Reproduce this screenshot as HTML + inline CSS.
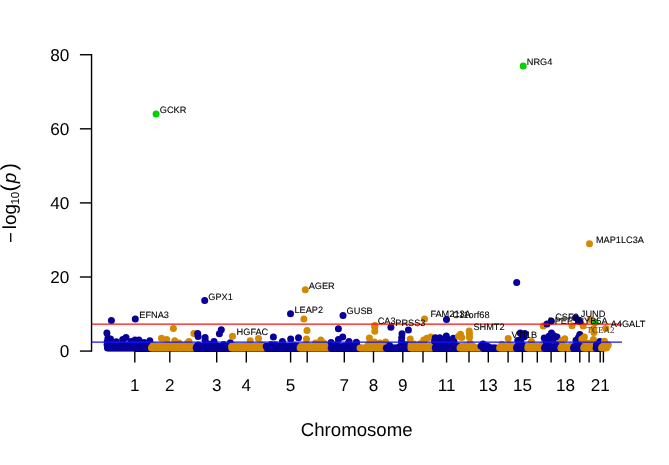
<!DOCTYPE html>
<html><head><meta charset="utf-8"><title>Manhattan plot</title>
<style>html,body{margin:0;padding:0;background:#fff}svg{display:block}text{font-family:"Liberation Sans",Arial,sans-serif;fill:#000;text-rendering:geometricPrecision}.g{font-size:9.2px;fill:#000;stroke:#000;stroke-width:.1px}.a{font-size:17.1px}.y{font-size:17.2px}.t{font-size:18.9px}.s{font-family:"Liberation Serif",serif;font-size:9px;fill:#34201c;fill-opacity:.88}</style></head><body>
<svg width="669" height="465" viewBox="0 0 669 465">
<rect width="669" height="465" fill="#fff"/>
<path d="M134.8 351.3H603.4" stroke="#000" stroke-width="1.2" fill="none"/>
<g><circle cx="107.5" cy="348.0" r="3.5" fill="#08009A"/><circle cx="108.3" cy="347.0" r="3.5" fill="#08009A"/><circle cx="109.1" cy="348.0" r="3.5" fill="#08009A"/><circle cx="109.9" cy="346.6" r="3.5" fill="#08009A"/><circle cx="110.7" cy="348.0" r="3.5" fill="#08009A"/><circle cx="111.5" cy="346.5" r="3.5" fill="#08009A"/><circle cx="112.3" cy="348.0" r="3.5" fill="#08009A"/><circle cx="113.1" cy="347.0" r="3.5" fill="#08009A"/><circle cx="113.9" cy="348.0" r="3.5" fill="#08009A"/><circle cx="114.7" cy="346.6" r="3.5" fill="#08009A"/><circle cx="115.5" cy="348.0" r="3.5" fill="#08009A"/><circle cx="116.3" cy="346.5" r="3.5" fill="#08009A"/><circle cx="117.1" cy="348.0" r="3.5" fill="#08009A"/><circle cx="117.9" cy="347.0" r="3.5" fill="#08009A"/><circle cx="118.7" cy="348.0" r="3.5" fill="#08009A"/><circle cx="119.5" cy="346.6" r="3.5" fill="#08009A"/><circle cx="120.3" cy="348.0" r="3.5" fill="#08009A"/><circle cx="121.1" cy="346.5" r="3.5" fill="#08009A"/><circle cx="121.9" cy="348.0" r="3.5" fill="#08009A"/><circle cx="122.7" cy="347.0" r="3.5" fill="#08009A"/><circle cx="123.5" cy="348.0" r="3.5" fill="#08009A"/><circle cx="124.3" cy="346.6" r="3.5" fill="#08009A"/><circle cx="125.1" cy="348.0" r="3.5" fill="#08009A"/><circle cx="125.9" cy="346.5" r="3.5" fill="#08009A"/><circle cx="126.7" cy="348.0" r="3.5" fill="#08009A"/><circle cx="127.5" cy="347.0" r="3.5" fill="#08009A"/><circle cx="128.3" cy="348.0" r="3.5" fill="#08009A"/><circle cx="129.1" cy="346.6" r="3.5" fill="#08009A"/><circle cx="129.9" cy="348.0" r="3.5" fill="#08009A"/><circle cx="130.7" cy="346.5" r="3.5" fill="#08009A"/><circle cx="131.5" cy="348.0" r="3.5" fill="#08009A"/><circle cx="132.3" cy="347.0" r="3.5" fill="#08009A"/><circle cx="133.1" cy="348.0" r="3.5" fill="#08009A"/><circle cx="133.9" cy="346.6" r="3.5" fill="#08009A"/><circle cx="134.7" cy="348.0" r="3.5" fill="#08009A"/><circle cx="135.5" cy="346.5" r="3.5" fill="#08009A"/><circle cx="136.3" cy="348.0" r="3.5" fill="#08009A"/><circle cx="137.1" cy="347.0" r="3.5" fill="#08009A"/><circle cx="137.9" cy="348.0" r="3.5" fill="#08009A"/><circle cx="138.7" cy="346.6" r="3.5" fill="#08009A"/><circle cx="139.5" cy="348.0" r="3.5" fill="#08009A"/><circle cx="140.3" cy="346.5" r="3.5" fill="#08009A"/><circle cx="141.1" cy="348.0" r="3.5" fill="#08009A"/><circle cx="141.9" cy="347.0" r="3.5" fill="#08009A"/><circle cx="142.7" cy="348.0" r="3.5" fill="#08009A"/><circle cx="143.5" cy="346.7" r="3.5" fill="#08009A"/><circle cx="144.3" cy="348.0" r="3.5" fill="#08009A"/><circle cx="145.1" cy="346.5" r="3.5" fill="#08009A"/><circle cx="145.9" cy="348.0" r="3.5" fill="#08009A"/><circle cx="146.7" cy="347.0" r="3.5" fill="#08009A"/><circle cx="147.5" cy="348.0" r="3.5" fill="#08009A"/><circle cx="148.3" cy="346.7" r="3.5" fill="#08009A"/><circle cx="149.1" cy="348.0" r="3.5" fill="#08009A"/><circle cx="149.9" cy="346.5" r="3.5" fill="#08009A"/><circle cx="121.1" cy="346.8" r="3.5" fill="#08009A"/><circle cx="134.8" cy="346.9" r="3.5" fill="#08009A"/><circle cx="130.0" cy="346.4" r="3.5" fill="#08009A"/><circle cx="109.9" cy="346.1" r="3.5" fill="#08009A"/><circle cx="109.1" cy="346.3" r="3.5" fill="#08009A"/><circle cx="110.4" cy="346.9" r="3.5" fill="#08009A"/><circle cx="125.3" cy="344.7" r="3.5" fill="#08009A"/><circle cx="112.7" cy="346.7" r="3.5" fill="#08009A"/><circle cx="133.8" cy="343.2" r="3.5" fill="#08009A"/><circle cx="131.7" cy="346.3" r="3.5" fill="#08009A"/><circle cx="148.4" cy="346.9" r="3.5" fill="#08009A"/><circle cx="143.5" cy="346.6" r="3.5" fill="#08009A"/><circle cx="113.5" cy="346.8" r="3.5" fill="#08009A"/><circle cx="120.4" cy="344.8" r="3.5" fill="#08009A"/><circle cx="115.1" cy="345.9" r="3.5" fill="#08009A"/><circle cx="134.3" cy="346.4" r="3.5" fill="#08009A"/><circle cx="130.5" cy="346.9" r="3.5" fill="#08009A"/><circle cx="110.0" cy="346.7" r="3.5" fill="#08009A"/><circle cx="107.2" cy="341.8" r="3.5" fill="#08009A"/><circle cx="107.1" cy="344.8" r="3.5" fill="#08009A"/><circle cx="109.5" cy="342.3" r="3.5" fill="#08009A"/><circle cx="111.4" cy="320.6" r="3.5" fill="#08009A"/><circle cx="135.3" cy="319.1" r="3.5" fill="#08009A"/><circle cx="106.9" cy="333.1" r="3.5" fill="#08009A"/><circle cx="107.9" cy="338.2" r="3.5" fill="#08009A"/><circle cx="110.5" cy="338.9" r="3.5" fill="#08009A"/><circle cx="126.0" cy="337.6" r="3.5" fill="#08009A"/><circle cx="122.7" cy="339.5" r="3.5" fill="#08009A"/><circle cx="135.0" cy="339.9" r="3.5" fill="#08009A"/><circle cx="138.9" cy="339.9" r="3.5" fill="#08009A"/><circle cx="149.8" cy="340.8" r="3.5" fill="#08009A"/><circle cx="116.3" cy="341.7" r="3.5" fill="#08009A"/><circle cx="144.0" cy="342.5" r="3.5" fill="#08009A"/><circle cx="131.0" cy="341.5" r="3.5" fill="#08009A"/></g>
<g><circle cx="151.4" cy="348.0" r="3.5" fill="#D38900"/><circle cx="152.2" cy="347.0" r="3.5" fill="#D38900"/><circle cx="153.0" cy="348.0" r="3.5" fill="#D38900"/><circle cx="153.8" cy="346.5" r="3.5" fill="#D38900"/><circle cx="154.6" cy="348.0" r="3.5" fill="#D38900"/><circle cx="155.4" cy="346.7" r="3.5" fill="#D38900"/><circle cx="156.2" cy="348.0" r="3.5" fill="#D38900"/><circle cx="157.0" cy="347.0" r="3.5" fill="#D38900"/><circle cx="157.8" cy="348.0" r="3.5" fill="#D38900"/><circle cx="158.6" cy="346.5" r="3.5" fill="#D38900"/><circle cx="159.4" cy="348.0" r="3.5" fill="#D38900"/><circle cx="160.2" cy="346.7" r="3.5" fill="#D38900"/><circle cx="161.0" cy="348.0" r="3.5" fill="#D38900"/><circle cx="161.8" cy="347.0" r="3.5" fill="#D38900"/><circle cx="162.6" cy="348.0" r="3.5" fill="#D38900"/><circle cx="163.4" cy="346.5" r="3.5" fill="#D38900"/><circle cx="164.2" cy="348.0" r="3.5" fill="#D38900"/><circle cx="165.0" cy="346.6" r="3.5" fill="#D38900"/><circle cx="165.8" cy="348.0" r="3.5" fill="#D38900"/><circle cx="166.6" cy="347.0" r="3.5" fill="#D38900"/><circle cx="167.4" cy="348.0" r="3.5" fill="#D38900"/><circle cx="168.2" cy="346.5" r="3.5" fill="#D38900"/><circle cx="169.0" cy="348.0" r="3.5" fill="#D38900"/><circle cx="169.8" cy="346.6" r="3.5" fill="#D38900"/><circle cx="170.6" cy="348.0" r="3.5" fill="#D38900"/><circle cx="171.4" cy="347.0" r="3.5" fill="#D38900"/><circle cx="172.2" cy="348.0" r="3.5" fill="#D38900"/><circle cx="173.0" cy="346.5" r="3.5" fill="#D38900"/><circle cx="173.8" cy="348.0" r="3.5" fill="#D38900"/><circle cx="174.6" cy="346.6" r="3.5" fill="#D38900"/><circle cx="175.4" cy="348.0" r="3.5" fill="#D38900"/><circle cx="176.2" cy="347.0" r="3.5" fill="#D38900"/><circle cx="177.0" cy="348.0" r="3.5" fill="#D38900"/><circle cx="177.8" cy="346.5" r="3.5" fill="#D38900"/><circle cx="178.6" cy="348.0" r="3.5" fill="#D38900"/><circle cx="179.4" cy="346.6" r="3.5" fill="#D38900"/><circle cx="180.2" cy="348.0" r="3.5" fill="#D38900"/><circle cx="181.0" cy="347.0" r="3.5" fill="#D38900"/><circle cx="181.8" cy="348.0" r="3.5" fill="#D38900"/><circle cx="182.6" cy="346.5" r="3.5" fill="#D38900"/><circle cx="183.4" cy="348.0" r="3.5" fill="#D38900"/><circle cx="184.2" cy="346.6" r="3.5" fill="#D38900"/><circle cx="185.0" cy="348.0" r="3.5" fill="#D38900"/><circle cx="185.8" cy="347.0" r="3.5" fill="#D38900"/><circle cx="186.6" cy="348.0" r="3.5" fill="#D38900"/><circle cx="187.4" cy="346.5" r="3.5" fill="#D38900"/><circle cx="188.2" cy="348.0" r="3.5" fill="#D38900"/><circle cx="189.0" cy="346.6" r="3.5" fill="#D38900"/><circle cx="189.8" cy="348.0" r="3.5" fill="#D38900"/><circle cx="190.6" cy="347.0" r="3.5" fill="#D38900"/><circle cx="191.4" cy="348.0" r="3.5" fill="#D38900"/><circle cx="192.2" cy="346.5" r="3.5" fill="#D38900"/><circle cx="193.0" cy="348.0" r="3.5" fill="#D38900"/><circle cx="193.8" cy="346.6" r="3.5" fill="#D38900"/><circle cx="180.5" cy="346.3" r="3.5" fill="#D38900"/><circle cx="164.8" cy="345.9" r="3.5" fill="#D38900"/><circle cx="170.8" cy="346.5" r="3.5" fill="#D38900"/><circle cx="185.4" cy="345.4" r="3.5" fill="#D38900"/><circle cx="161.8" cy="345.9" r="3.5" fill="#D38900"/><circle cx="173.9" cy="344.3" r="3.5" fill="#D38900"/><circle cx="182.6" cy="346.6" r="3.5" fill="#D38900"/><circle cx="193.4" cy="346.8" r="3.5" fill="#D38900"/><circle cx="169.3" cy="345.2" r="3.5" fill="#D38900"/><circle cx="157.9" cy="346.1" r="3.5" fill="#D38900"/><circle cx="153.1" cy="345.6" r="3.5" fill="#D38900"/><circle cx="184.1" cy="345.9" r="3.5" fill="#D38900"/><circle cx="188.9" cy="346.5" r="3.5" fill="#D38900"/><circle cx="181.2" cy="345.8" r="3.5" fill="#D38900"/><circle cx="176.2" cy="346.2" r="3.5" fill="#D38900"/><circle cx="187.4" cy="343.2" r="3.5" fill="#D38900"/><circle cx="171.7" cy="345.6" r="3.5" fill="#D38900"/><circle cx="154.0" cy="345.4" r="3.5" fill="#D38900"/><circle cx="179.1" cy="343.0" r="3.5" fill="#D38900"/><circle cx="173.4" cy="328.6" r="3.5" fill="#D38900"/><circle cx="161.5" cy="338.2" r="3.5" fill="#D38900"/><circle cx="166.7" cy="339.5" r="3.5" fill="#D38900"/><circle cx="174.7" cy="340.8" r="3.5" fill="#D38900"/><circle cx="188.9" cy="341.5" r="3.5" fill="#D38900"/><circle cx="193.9" cy="333.5" r="3.5" fill="#D38900"/><circle cx="156.1" cy="114.0" r="3.5" fill="#00D200"/></g>
<g><circle cx="196.2" cy="348.0" r="3.5" fill="#08009A"/><circle cx="197.0" cy="346.5" r="3.5" fill="#08009A"/><circle cx="197.8" cy="348.0" r="3.5" fill="#08009A"/><circle cx="198.6" cy="346.6" r="3.5" fill="#08009A"/><circle cx="199.4" cy="348.0" r="3.5" fill="#08009A"/><circle cx="200.2" cy="347.0" r="3.5" fill="#08009A"/><circle cx="201.0" cy="348.0" r="3.5" fill="#08009A"/><circle cx="201.8" cy="346.5" r="3.5" fill="#08009A"/><circle cx="202.6" cy="348.0" r="3.5" fill="#08009A"/><circle cx="203.4" cy="346.6" r="3.5" fill="#08009A"/><circle cx="204.2" cy="348.0" r="3.5" fill="#08009A"/><circle cx="205.0" cy="347.0" r="3.5" fill="#08009A"/><circle cx="205.8" cy="348.0" r="3.5" fill="#08009A"/><circle cx="206.6" cy="346.6" r="3.5" fill="#08009A"/><circle cx="207.4" cy="348.0" r="3.5" fill="#08009A"/><circle cx="208.2" cy="346.5" r="3.5" fill="#08009A"/><circle cx="209.0" cy="348.0" r="3.5" fill="#08009A"/><circle cx="209.8" cy="347.0" r="3.5" fill="#08009A"/><circle cx="210.6" cy="348.0" r="3.5" fill="#08009A"/><circle cx="211.4" cy="346.6" r="3.5" fill="#08009A"/><circle cx="212.2" cy="348.0" r="3.5" fill="#08009A"/><circle cx="213.0" cy="346.5" r="3.5" fill="#08009A"/><circle cx="213.8" cy="348.0" r="3.5" fill="#08009A"/><circle cx="214.6" cy="347.0" r="3.5" fill="#08009A"/><circle cx="215.4" cy="348.0" r="3.5" fill="#08009A"/><circle cx="216.2" cy="346.6" r="3.5" fill="#08009A"/><circle cx="217.0" cy="348.0" r="3.5" fill="#08009A"/><circle cx="217.8" cy="346.5" r="3.5" fill="#08009A"/><circle cx="218.6" cy="348.0" r="3.5" fill="#08009A"/><circle cx="219.4" cy="347.0" r="3.5" fill="#08009A"/><circle cx="220.2" cy="348.0" r="3.5" fill="#08009A"/><circle cx="221.0" cy="346.6" r="3.5" fill="#08009A"/><circle cx="221.8" cy="348.0" r="3.5" fill="#08009A"/><circle cx="222.6" cy="346.5" r="3.5" fill="#08009A"/><circle cx="223.4" cy="348.0" r="3.5" fill="#08009A"/><circle cx="224.2" cy="347.0" r="3.5" fill="#08009A"/><circle cx="225.0" cy="348.0" r="3.5" fill="#08009A"/><circle cx="225.8" cy="346.6" r="3.5" fill="#08009A"/><circle cx="226.6" cy="348.0" r="3.5" fill="#08009A"/><circle cx="227.4" cy="346.5" r="3.5" fill="#08009A"/><circle cx="228.2" cy="348.0" r="3.5" fill="#08009A"/><circle cx="229.0" cy="347.0" r="3.5" fill="#08009A"/><circle cx="229.8" cy="348.0" r="3.5" fill="#08009A"/><circle cx="230.6" cy="346.6" r="3.5" fill="#08009A"/><circle cx="223.8" cy="346.6" r="3.5" fill="#08009A"/><circle cx="209.2" cy="345.6" r="3.5" fill="#08009A"/><circle cx="197.0" cy="346.2" r="3.5" fill="#08009A"/><circle cx="201.8" cy="346.8" r="3.5" fill="#08009A"/><circle cx="198.2" cy="345.1" r="3.5" fill="#08009A"/><circle cx="200.5" cy="346.6" r="3.5" fill="#08009A"/><circle cx="209.3" cy="344.3" r="3.5" fill="#08009A"/><circle cx="198.9" cy="346.2" r="3.5" fill="#08009A"/><circle cx="214.7" cy="344.2" r="3.5" fill="#08009A"/><circle cx="223.7" cy="344.4" r="3.5" fill="#08009A"/><circle cx="205.6" cy="346.3" r="3.5" fill="#08009A"/><circle cx="208.3" cy="344.2" r="3.5" fill="#08009A"/><circle cx="228.4" cy="346.8" r="3.5" fill="#08009A"/><circle cx="202.1" cy="346.7" r="3.5" fill="#08009A"/><circle cx="204.0" cy="346.1" r="3.5" fill="#08009A"/><circle cx="204.7" cy="300.6" r="3.5" fill="#08009A"/><circle cx="197.7" cy="333.5" r="3.5" fill="#08009A"/><circle cx="198.1" cy="336.4" r="3.5" fill="#08009A"/><circle cx="205.1" cy="337.5" r="3.5" fill="#08009A"/><circle cx="205.1" cy="340.3" r="3.5" fill="#08009A"/><circle cx="214.0" cy="341.5" r="3.5" fill="#08009A"/><circle cx="221.3" cy="329.8" r="3.5" fill="#08009A"/><circle cx="219.4" cy="333.7" r="3.5" fill="#08009A"/><circle cx="230.3" cy="342.8" r="3.5" fill="#08009A"/></g>
<g><circle cx="231.8" cy="348.0" r="3.5" fill="#D38900"/><circle cx="232.6" cy="346.6" r="3.5" fill="#D38900"/><circle cx="233.4" cy="348.0" r="3.5" fill="#D38900"/><circle cx="234.2" cy="347.0" r="3.5" fill="#D38900"/><circle cx="235.0" cy="348.0" r="3.5" fill="#D38900"/><circle cx="235.8" cy="346.5" r="3.5" fill="#D38900"/><circle cx="236.6" cy="348.0" r="3.5" fill="#D38900"/><circle cx="237.4" cy="346.6" r="3.5" fill="#D38900"/><circle cx="238.2" cy="348.0" r="3.5" fill="#D38900"/><circle cx="239.0" cy="347.0" r="3.5" fill="#D38900"/><circle cx="239.8" cy="348.0" r="3.5" fill="#D38900"/><circle cx="240.6" cy="346.5" r="3.5" fill="#D38900"/><circle cx="241.4" cy="348.0" r="3.5" fill="#D38900"/><circle cx="242.2" cy="346.6" r="3.5" fill="#D38900"/><circle cx="243.0" cy="348.0" r="3.5" fill="#D38900"/><circle cx="243.8" cy="347.0" r="3.5" fill="#D38900"/><circle cx="244.6" cy="348.0" r="3.5" fill="#D38900"/><circle cx="245.4" cy="346.5" r="3.5" fill="#D38900"/><circle cx="246.2" cy="348.0" r="3.5" fill="#D38900"/><circle cx="247.0" cy="346.6" r="3.5" fill="#D38900"/><circle cx="247.8" cy="348.0" r="3.5" fill="#D38900"/><circle cx="248.6" cy="347.0" r="3.5" fill="#D38900"/><circle cx="249.4" cy="348.0" r="3.5" fill="#D38900"/><circle cx="250.2" cy="346.5" r="3.5" fill="#D38900"/><circle cx="251.0" cy="348.0" r="3.5" fill="#D38900"/><circle cx="251.8" cy="346.6" r="3.5" fill="#D38900"/><circle cx="252.6" cy="348.0" r="3.5" fill="#D38900"/><circle cx="253.4" cy="347.0" r="3.5" fill="#D38900"/><circle cx="254.2" cy="348.0" r="3.5" fill="#D38900"/><circle cx="255.0" cy="346.5" r="3.5" fill="#D38900"/><circle cx="255.8" cy="348.0" r="3.5" fill="#D38900"/><circle cx="256.6" cy="346.6" r="3.5" fill="#D38900"/><circle cx="257.4" cy="348.0" r="3.5" fill="#D38900"/><circle cx="258.2" cy="347.0" r="3.5" fill="#D38900"/><circle cx="259.0" cy="348.0" r="3.5" fill="#D38900"/><circle cx="259.8" cy="346.5" r="3.5" fill="#D38900"/><circle cx="260.6" cy="348.0" r="3.5" fill="#D38900"/><circle cx="261.4" cy="346.6" r="3.5" fill="#D38900"/><circle cx="262.2" cy="348.0" r="3.5" fill="#D38900"/><circle cx="263.0" cy="347.0" r="3.5" fill="#D38900"/><circle cx="263.8" cy="348.0" r="3.5" fill="#D38900"/><circle cx="251.5" cy="346.6" r="3.5" fill="#D38900"/><circle cx="231.9" cy="346.3" r="3.5" fill="#D38900"/><circle cx="244.1" cy="345.9" r="3.5" fill="#D38900"/><circle cx="263.6" cy="345.5" r="3.5" fill="#D38900"/><circle cx="249.0" cy="345.8" r="3.5" fill="#D38900"/><circle cx="254.4" cy="346.9" r="3.5" fill="#D38900"/><circle cx="261.8" cy="345.0" r="3.5" fill="#D38900"/><circle cx="261.0" cy="344.9" r="3.5" fill="#D38900"/><circle cx="244.9" cy="346.3" r="3.5" fill="#D38900"/><circle cx="235.3" cy="345.7" r="3.5" fill="#D38900"/><circle cx="233.9" cy="346.9" r="3.5" fill="#D38900"/><circle cx="238.8" cy="346.8" r="3.5" fill="#D38900"/><circle cx="243.2" cy="346.9" r="3.5" fill="#D38900"/><circle cx="231.8" cy="346.8" r="3.5" fill="#D38900"/><circle cx="235.2" cy="346.4" r="3.5" fill="#D38900"/><circle cx="232.5" cy="336.3" r="3.5" fill="#D38900"/><circle cx="258.5" cy="338.6" r="3.5" fill="#D38900"/><circle cx="250.2" cy="340.8" r="3.5" fill="#D38900"/></g>
<g><circle cx="267.2" cy="348.0" r="3.5" fill="#08009A"/><circle cx="268.8" cy="348.0" r="3.5" fill="#08009A"/><circle cx="270.4" cy="348.0" r="3.5" fill="#08009A"/><circle cx="271.2" cy="346.6" r="3.5" fill="#08009A"/><circle cx="272.0" cy="348.0" r="3.5" fill="#08009A"/><circle cx="272.8" cy="347.0" r="3.5" fill="#08009A"/><circle cx="273.6" cy="348.0" r="3.5" fill="#08009A"/><circle cx="274.4" cy="346.5" r="3.5" fill="#08009A"/><circle cx="275.2" cy="348.0" r="3.5" fill="#08009A"/><circle cx="276.0" cy="346.6" r="3.5" fill="#08009A"/><circle cx="276.8" cy="348.0" r="3.5" fill="#08009A"/><circle cx="277.6" cy="347.0" r="3.5" fill="#08009A"/><circle cx="278.4" cy="348.0" r="3.5" fill="#08009A"/><circle cx="279.2" cy="346.5" r="3.5" fill="#08009A"/><circle cx="280.0" cy="348.0" r="3.5" fill="#08009A"/><circle cx="280.8" cy="346.6" r="3.5" fill="#08009A"/><circle cx="281.6" cy="348.0" r="3.5" fill="#08009A"/><circle cx="282.4" cy="347.0" r="3.5" fill="#08009A"/><circle cx="283.2" cy="348.0" r="3.5" fill="#08009A"/><circle cx="284.0" cy="346.5" r="3.5" fill="#08009A"/><circle cx="284.8" cy="348.0" r="3.5" fill="#08009A"/><circle cx="285.6" cy="346.6" r="3.5" fill="#08009A"/><circle cx="286.4" cy="348.0" r="3.5" fill="#08009A"/><circle cx="287.2" cy="347.0" r="3.5" fill="#08009A"/><circle cx="288.0" cy="348.0" r="3.5" fill="#08009A"/><circle cx="288.8" cy="346.5" r="3.5" fill="#08009A"/><circle cx="289.6" cy="348.0" r="3.5" fill="#08009A"/><circle cx="290.4" cy="346.6" r="3.5" fill="#08009A"/><circle cx="291.2" cy="348.0" r="3.5" fill="#08009A"/><circle cx="292.0" cy="347.0" r="3.5" fill="#08009A"/><circle cx="292.8" cy="348.0" r="3.5" fill="#08009A"/><circle cx="293.6" cy="346.6" r="3.5" fill="#08009A"/><circle cx="294.4" cy="348.0" r="3.5" fill="#08009A"/><circle cx="295.2" cy="346.5" r="3.5" fill="#08009A"/><circle cx="296.0" cy="348.0" r="3.5" fill="#08009A"/><circle cx="296.8" cy="347.0" r="3.5" fill="#08009A"/><circle cx="297.6" cy="348.0" r="3.5" fill="#08009A"/><circle cx="298.4" cy="346.6" r="3.5" fill="#08009A"/><circle cx="294.2" cy="345.8" r="3.5" fill="#08009A"/><circle cx="271.8" cy="346.6" r="3.5" fill="#08009A"/><circle cx="277.9" cy="346.4" r="3.5" fill="#08009A"/><circle cx="271.0" cy="344.5" r="3.5" fill="#08009A"/><circle cx="297.9" cy="346.2" r="3.5" fill="#08009A"/><circle cx="282.2" cy="346.9" r="3.5" fill="#08009A"/><circle cx="270.4" cy="346.5" r="3.5" fill="#08009A"/><circle cx="275.4" cy="344.7" r="3.5" fill="#08009A"/><circle cx="272.2" cy="347.0" r="3.5" fill="#08009A"/><circle cx="296.6" cy="346.0" r="3.5" fill="#08009A"/><circle cx="271.7" cy="346.0" r="3.5" fill="#08009A"/><circle cx="290.5" cy="313.8" r="3.5" fill="#08009A"/><circle cx="273.4" cy="336.9" r="3.5" fill="#08009A"/><circle cx="282.4" cy="341.5" r="3.5" fill="#08009A"/><circle cx="290.7" cy="339.0" r="3.5" fill="#08009A"/><circle cx="298.5" cy="337.8" r="3.5" fill="#08009A"/><circle cx="266.3" cy="346.3" r="3.5" fill="#08009A"/></g>
<g><circle cx="300.1" cy="348.0" r="3.5" fill="#D38900"/><circle cx="300.9" cy="346.9" r="3.5" fill="#D38900"/><circle cx="301.7" cy="348.0" r="3.5" fill="#D38900"/><circle cx="302.5" cy="346.8" r="3.5" fill="#D38900"/><circle cx="303.3" cy="348.0" r="3.5" fill="#D38900"/><circle cx="304.1" cy="346.4" r="3.5" fill="#D38900"/><circle cx="304.9" cy="348.0" r="3.5" fill="#D38900"/><circle cx="305.7" cy="346.9" r="3.5" fill="#D38900"/><circle cx="306.5" cy="348.0" r="3.5" fill="#D38900"/><circle cx="307.3" cy="346.9" r="3.5" fill="#D38900"/><circle cx="308.1" cy="348.0" r="3.5" fill="#D38900"/><circle cx="308.9" cy="346.4" r="3.5" fill="#D38900"/><circle cx="309.7" cy="348.0" r="3.5" fill="#D38900"/><circle cx="310.5" cy="346.8" r="3.5" fill="#D38900"/><circle cx="311.3" cy="348.0" r="3.5" fill="#D38900"/><circle cx="312.1" cy="346.9" r="3.5" fill="#D38900"/><circle cx="312.9" cy="348.0" r="3.5" fill="#D38900"/><circle cx="313.7" cy="346.4" r="3.5" fill="#D38900"/><circle cx="314.5" cy="348.0" r="3.5" fill="#D38900"/><circle cx="315.3" cy="346.8" r="3.5" fill="#D38900"/><circle cx="316.1" cy="348.0" r="3.5" fill="#D38900"/><circle cx="316.9" cy="346.9" r="3.5" fill="#D38900"/><circle cx="317.7" cy="348.0" r="3.5" fill="#D38900"/><circle cx="318.5" cy="346.4" r="3.5" fill="#D38900"/><circle cx="319.3" cy="348.0" r="3.5" fill="#D38900"/><circle cx="320.1" cy="346.8" r="3.5" fill="#D38900"/><circle cx="320.9" cy="348.0" r="3.5" fill="#D38900"/><circle cx="321.7" cy="346.9" r="3.5" fill="#D38900"/><circle cx="322.5" cy="348.0" r="3.5" fill="#D38900"/><circle cx="323.3" cy="346.4" r="3.5" fill="#D38900"/><circle cx="324.1" cy="348.0" r="3.5" fill="#D38900"/><circle cx="324.9" cy="346.8" r="3.5" fill="#D38900"/><circle cx="325.7" cy="348.0" r="3.5" fill="#D38900"/><circle cx="326.5" cy="346.9" r="3.5" fill="#D38900"/><circle cx="327.3" cy="348.0" r="3.5" fill="#D38900"/><circle cx="328.1" cy="346.4" r="3.5" fill="#D38900"/><circle cx="328.9" cy="348.0" r="3.5" fill="#D38900"/><circle cx="329.7" cy="346.8" r="3.5" fill="#D38900"/><circle cx="315.5" cy="343.0" r="3.5" fill="#D38900"/><circle cx="325.2" cy="345.5" r="3.5" fill="#D38900"/><circle cx="307.7" cy="346.4" r="3.5" fill="#D38900"/><circle cx="305.0" cy="345.1" r="3.5" fill="#D38900"/><circle cx="315.6" cy="345.0" r="3.5" fill="#D38900"/><circle cx="309.7" cy="346.7" r="3.5" fill="#D38900"/><circle cx="323.7" cy="343.0" r="3.5" fill="#D38900"/><circle cx="324.9" cy="344.9" r="3.5" fill="#D38900"/><circle cx="323.9" cy="345.2" r="3.5" fill="#D38900"/><circle cx="306.7" cy="346.1" r="3.5" fill="#D38900"/><circle cx="310.4" cy="347.0" r="3.5" fill="#D38900"/><circle cx="300.9" cy="346.6" r="3.5" fill="#D38900"/><circle cx="307.6" cy="345.5" r="3.5" fill="#D38900"/><circle cx="305.3" cy="289.7" r="3.5" fill="#D38900"/><circle cx="303.9" cy="319.0" r="3.5" fill="#D38900"/><circle cx="307.0" cy="330.6" r="3.5" fill="#D38900"/><circle cx="306.5" cy="339.1" r="3.5" fill="#D38900"/><circle cx="320.8" cy="340.0" r="3.5" fill="#D38900"/></g>
<g><circle cx="331.2" cy="348.0" r="3.5" fill="#08009A"/><circle cx="332.0" cy="346.7" r="3.5" fill="#08009A"/><circle cx="332.8" cy="348.0" r="3.5" fill="#08009A"/><circle cx="333.6" cy="346.5" r="3.5" fill="#08009A"/><circle cx="334.4" cy="348.0" r="3.5" fill="#08009A"/><circle cx="335.2" cy="347.0" r="3.5" fill="#08009A"/><circle cx="336.0" cy="348.0" r="3.5" fill="#08009A"/><circle cx="336.8" cy="346.7" r="3.5" fill="#08009A"/><circle cx="337.6" cy="348.0" r="3.5" fill="#08009A"/><circle cx="338.4" cy="346.5" r="3.5" fill="#08009A"/><circle cx="339.2" cy="348.0" r="3.5" fill="#08009A"/><circle cx="340.0" cy="347.0" r="3.5" fill="#08009A"/><circle cx="340.8" cy="348.0" r="3.5" fill="#08009A"/><circle cx="341.6" cy="346.7" r="3.5" fill="#08009A"/><circle cx="342.4" cy="348.0" r="3.5" fill="#08009A"/><circle cx="343.2" cy="346.4" r="3.5" fill="#08009A"/><circle cx="344.0" cy="348.0" r="3.5" fill="#08009A"/><circle cx="344.8" cy="347.0" r="3.5" fill="#08009A"/><circle cx="345.6" cy="348.0" r="3.5" fill="#08009A"/><circle cx="346.4" cy="346.7" r="3.5" fill="#08009A"/><circle cx="347.2" cy="348.0" r="3.5" fill="#08009A"/><circle cx="348.0" cy="346.4" r="3.5" fill="#08009A"/><circle cx="348.8" cy="348.0" r="3.5" fill="#08009A"/><circle cx="349.6" cy="347.0" r="3.5" fill="#08009A"/><circle cx="350.4" cy="348.0" r="3.5" fill="#08009A"/><circle cx="351.2" cy="346.7" r="3.5" fill="#08009A"/><circle cx="352.0" cy="348.0" r="3.5" fill="#08009A"/><circle cx="352.8" cy="346.4" r="3.5" fill="#08009A"/><circle cx="353.6" cy="348.0" r="3.5" fill="#08009A"/><circle cx="354.4" cy="347.0" r="3.5" fill="#08009A"/><circle cx="355.2" cy="348.0" r="3.5" fill="#08009A"/><circle cx="356.0" cy="346.7" r="3.5" fill="#08009A"/><circle cx="356.8" cy="348.0" r="3.5" fill="#08009A"/><circle cx="357.6" cy="346.4" r="3.5" fill="#08009A"/><circle cx="356.8" cy="346.2" r="3.5" fill="#08009A"/><circle cx="356.3" cy="343.0" r="3.5" fill="#08009A"/><circle cx="356.8" cy="346.4" r="3.5" fill="#08009A"/><circle cx="337.1" cy="346.7" r="3.5" fill="#08009A"/><circle cx="336.5" cy="346.7" r="3.5" fill="#08009A"/><circle cx="347.9" cy="344.0" r="3.5" fill="#08009A"/><circle cx="353.7" cy="346.2" r="3.5" fill="#08009A"/><circle cx="348.7" cy="344.9" r="3.5" fill="#08009A"/><circle cx="333.5" cy="345.6" r="3.5" fill="#08009A"/><circle cx="355.6" cy="345.0" r="3.5" fill="#08009A"/><circle cx="351.3" cy="346.2" r="3.5" fill="#08009A"/><circle cx="336.0" cy="345.0" r="3.5" fill="#08009A"/><circle cx="343.0" cy="315.5" r="3.5" fill="#08009A"/><circle cx="338.4" cy="328.8" r="3.5" fill="#08009A"/><circle cx="342.7" cy="337.1" r="3.5" fill="#08009A"/><circle cx="338.4" cy="339.6" r="3.5" fill="#08009A"/><circle cx="331.1" cy="342.6" r="3.5" fill="#08009A"/><circle cx="349.0" cy="341.6" r="3.5" fill="#08009A"/><circle cx="356.4" cy="342.3" r="3.5" fill="#08009A"/></g>
<g><circle cx="360.0" cy="348.0" r="3.5" fill="#D38900"/><circle cx="361.6" cy="348.0" r="3.5" fill="#D38900"/><circle cx="363.2" cy="348.0" r="3.5" fill="#D38900"/><circle cx="364.8" cy="348.0" r="3.5" fill="#D38900"/><circle cx="366.4" cy="348.0" r="3.5" fill="#D38900"/><circle cx="368.0" cy="348.0" r="3.5" fill="#D38900"/><circle cx="368.8" cy="346.9" r="3.5" fill="#D38900"/><circle cx="369.6" cy="348.0" r="3.5" fill="#D38900"/><circle cx="370.4" cy="346.8" r="3.5" fill="#D38900"/><circle cx="371.2" cy="348.0" r="3.5" fill="#D38900"/><circle cx="372.0" cy="346.4" r="3.5" fill="#D38900"/><circle cx="372.8" cy="348.0" r="3.5" fill="#D38900"/><circle cx="373.6" cy="346.9" r="3.5" fill="#D38900"/><circle cx="374.4" cy="348.0" r="3.5" fill="#D38900"/><circle cx="375.2" cy="346.8" r="3.5" fill="#D38900"/><circle cx="376.0" cy="348.0" r="3.5" fill="#D38900"/><circle cx="376.8" cy="346.4" r="3.5" fill="#D38900"/><circle cx="377.6" cy="348.0" r="3.5" fill="#D38900"/><circle cx="378.4" cy="346.9" r="3.5" fill="#D38900"/><circle cx="379.2" cy="348.0" r="3.5" fill="#D38900"/><circle cx="380.0" cy="346.8" r="3.5" fill="#D38900"/><circle cx="380.8" cy="348.0" r="3.5" fill="#D38900"/><circle cx="381.6" cy="346.4" r="3.5" fill="#D38900"/><circle cx="382.4" cy="348.0" r="3.5" fill="#D38900"/><circle cx="383.2" cy="346.9" r="3.5" fill="#D38900"/><circle cx="384.0" cy="348.0" r="3.5" fill="#D38900"/><circle cx="368.1" cy="344.9" r="3.5" fill="#D38900"/><circle cx="383.6" cy="346.3" r="3.5" fill="#D38900"/><circle cx="369.8" cy="343.2" r="3.5" fill="#D38900"/><circle cx="377.6" cy="346.8" r="3.5" fill="#D38900"/><circle cx="382.0" cy="344.9" r="3.5" fill="#D38900"/><circle cx="380.1" cy="343.0" r="3.5" fill="#D38900"/><circle cx="376.0" cy="346.4" r="3.5" fill="#D38900"/><circle cx="374.8" cy="325.5" r="3.5" fill="#D38900"/><circle cx="374.8" cy="327.1" r="3.5" fill="#D38900"/><circle cx="374.8" cy="331.3" r="3.5" fill="#D38900"/><circle cx="369.4" cy="338.0" r="3.5" fill="#D38900"/><circle cx="374.5" cy="341.9" r="3.5" fill="#D38900"/><circle cx="385.6" cy="342.0" r="3.5" fill="#D38900"/></g>
<g><circle cx="386.3" cy="348.0" r="3.5" fill="#08009A"/><circle cx="387.9" cy="348.0" r="3.5" fill="#08009A"/><circle cx="389.5" cy="348.0" r="3.5" fill="#08009A"/><circle cx="391.1" cy="348.0" r="3.5" fill="#08009A"/><circle cx="392.7" cy="348.0" r="3.5" fill="#08009A"/><circle cx="394.3" cy="348.0" r="3.5" fill="#08009A"/><circle cx="395.9" cy="348.0" r="3.5" fill="#08009A"/><circle cx="397.5" cy="348.0" r="3.5" fill="#08009A"/><circle cx="399.1" cy="348.0" r="3.5" fill="#08009A"/><circle cx="399.9" cy="346.6" r="3.5" fill="#08009A"/><circle cx="400.7" cy="348.0" r="3.5" fill="#08009A"/><circle cx="401.5" cy="346.5" r="3.5" fill="#08009A"/><circle cx="402.3" cy="348.0" r="3.5" fill="#08009A"/><circle cx="403.1" cy="347.0" r="3.5" fill="#08009A"/><circle cx="403.9" cy="348.0" r="3.5" fill="#08009A"/><circle cx="404.7" cy="346.6" r="3.5" fill="#08009A"/><circle cx="405.5" cy="348.0" r="3.5" fill="#08009A"/><circle cx="406.3" cy="346.5" r="3.5" fill="#08009A"/><circle cx="407.1" cy="348.0" r="3.5" fill="#08009A"/><circle cx="407.9" cy="347.0" r="3.5" fill="#08009A"/><circle cx="408.7" cy="348.0" r="3.5" fill="#08009A"/><circle cx="409.5" cy="346.6" r="3.5" fill="#08009A"/><circle cx="408.2" cy="345.6" r="3.5" fill="#08009A"/><circle cx="407.4" cy="346.3" r="3.5" fill="#08009A"/><circle cx="406.0" cy="344.7" r="3.5" fill="#08009A"/><circle cx="390.9" cy="327.2" r="3.5" fill="#08009A"/><circle cx="408.4" cy="329.9" r="3.5" fill="#08009A"/><circle cx="402.0" cy="333.8" r="3.5" fill="#08009A"/><circle cx="401.7" cy="337.8" r="3.5" fill="#08009A"/><circle cx="401.5" cy="341.3" r="3.5" fill="#08009A"/><circle cx="389.6" cy="345.5" r="3.5" fill="#08009A"/></g>
<g><circle cx="410.9" cy="348.0" r="3.5" fill="#D38900"/><circle cx="411.7" cy="346.7" r="3.5" fill="#D38900"/><circle cx="412.5" cy="348.0" r="3.5" fill="#D38900"/><circle cx="413.3" cy="346.9" r="3.5" fill="#D38900"/><circle cx="414.1" cy="348.0" r="3.5" fill="#D38900"/><circle cx="414.9" cy="346.4" r="3.5" fill="#D38900"/><circle cx="415.7" cy="348.0" r="3.5" fill="#D38900"/><circle cx="416.5" cy="346.7" r="3.5" fill="#D38900"/><circle cx="417.3" cy="348.0" r="3.5" fill="#D38900"/><circle cx="418.1" cy="347.0" r="3.5" fill="#D38900"/><circle cx="418.9" cy="348.0" r="3.5" fill="#D38900"/><circle cx="419.7" cy="346.4" r="3.5" fill="#D38900"/><circle cx="420.5" cy="348.0" r="3.5" fill="#D38900"/><circle cx="421.3" cy="346.7" r="3.5" fill="#D38900"/><circle cx="422.1" cy="348.0" r="3.5" fill="#D38900"/><circle cx="422.9" cy="347.0" r="3.5" fill="#D38900"/><circle cx="423.7" cy="348.0" r="3.5" fill="#D38900"/><circle cx="424.5" cy="346.4" r="3.5" fill="#D38900"/><circle cx="425.3" cy="348.0" r="3.5" fill="#D38900"/><circle cx="426.1" cy="346.7" r="3.5" fill="#D38900"/><circle cx="426.9" cy="348.0" r="3.5" fill="#D38900"/><circle cx="427.7" cy="347.0" r="3.5" fill="#D38900"/><circle cx="428.5" cy="348.0" r="3.5" fill="#D38900"/><circle cx="429.3" cy="346.4" r="3.5" fill="#D38900"/><circle cx="430.1" cy="348.0" r="3.5" fill="#D38900"/><circle cx="430.9" cy="346.7" r="3.5" fill="#D38900"/><circle cx="431.7" cy="348.0" r="3.5" fill="#D38900"/><circle cx="432.5" cy="347.0" r="3.5" fill="#D38900"/><circle cx="416.3" cy="345.9" r="3.5" fill="#D38900"/><circle cx="416.7" cy="346.3" r="3.5" fill="#D38900"/><circle cx="413.8" cy="343.9" r="3.5" fill="#D38900"/><circle cx="418.8" cy="346.2" r="3.5" fill="#D38900"/><circle cx="423.9" cy="343.9" r="3.5" fill="#D38900"/><circle cx="420.3" cy="343.8" r="3.5" fill="#D38900"/><circle cx="422.1" cy="346.0" r="3.5" fill="#D38900"/><circle cx="422.6" cy="347.0" r="3.5" fill="#D38900"/><circle cx="420.7" cy="346.7" r="3.5" fill="#D38900"/><circle cx="411.0" cy="344.9" r="3.5" fill="#D38900"/><circle cx="424.5" cy="318.9" r="3.5" fill="#D38900"/><circle cx="410.2" cy="338.9" r="3.5" fill="#D38900"/><circle cx="430.8" cy="336.9" r="3.5" fill="#D38900"/><circle cx="426.9" cy="338.3" r="3.5" fill="#D38900"/><circle cx="423.7" cy="340.1" r="3.5" fill="#D38900"/></g>
<g><circle cx="435.2" cy="348.0" r="3.5" fill="#08009A"/><circle cx="436.0" cy="346.8" r="3.5" fill="#08009A"/><circle cx="436.8" cy="348.0" r="3.5" fill="#08009A"/><circle cx="437.6" cy="346.9" r="3.5" fill="#08009A"/><circle cx="438.4" cy="348.0" r="3.5" fill="#08009A"/><circle cx="439.2" cy="346.4" r="3.5" fill="#08009A"/><circle cx="440.0" cy="348.0" r="3.5" fill="#08009A"/><circle cx="440.8" cy="346.8" r="3.5" fill="#08009A"/><circle cx="441.6" cy="348.0" r="3.5" fill="#08009A"/><circle cx="442.4" cy="346.9" r="3.5" fill="#08009A"/><circle cx="443.2" cy="348.0" r="3.5" fill="#08009A"/><circle cx="444.0" cy="346.4" r="3.5" fill="#08009A"/><circle cx="444.8" cy="348.0" r="3.5" fill="#08009A"/><circle cx="445.6" cy="346.8" r="3.5" fill="#08009A"/><circle cx="446.4" cy="348.0" r="3.5" fill="#08009A"/><circle cx="447.2" cy="346.9" r="3.5" fill="#08009A"/><circle cx="448.0" cy="348.0" r="3.5" fill="#08009A"/><circle cx="448.8" cy="346.4" r="3.5" fill="#08009A"/><circle cx="449.6" cy="348.0" r="3.5" fill="#08009A"/><circle cx="450.4" cy="346.7" r="3.5" fill="#08009A"/><circle cx="451.2" cy="348.0" r="3.5" fill="#08009A"/><circle cx="452.0" cy="346.9" r="3.5" fill="#08009A"/><circle cx="452.8" cy="348.0" r="3.5" fill="#08009A"/><circle cx="453.6" cy="346.4" r="3.5" fill="#08009A"/><circle cx="454.4" cy="348.0" r="3.5" fill="#08009A"/><circle cx="455.2" cy="346.7" r="3.5" fill="#08009A"/><circle cx="456.0" cy="348.0" r="3.5" fill="#08009A"/><circle cx="456.8" cy="346.9" r="3.5" fill="#08009A"/><circle cx="457.6" cy="348.0" r="3.5" fill="#08009A"/><circle cx="458.4" cy="346.4" r="3.5" fill="#08009A"/><circle cx="439.1" cy="346.2" r="3.5" fill="#08009A"/><circle cx="451.7" cy="345.9" r="3.5" fill="#08009A"/><circle cx="442.6" cy="346.1" r="3.5" fill="#08009A"/><circle cx="447.9" cy="345.0" r="3.5" fill="#08009A"/><circle cx="437.6" cy="345.9" r="3.5" fill="#08009A"/><circle cx="440.9" cy="346.6" r="3.5" fill="#08009A"/><circle cx="452.8" cy="346.1" r="3.5" fill="#08009A"/><circle cx="448.0" cy="345.1" r="3.5" fill="#08009A"/><circle cx="456.0" cy="346.2" r="3.5" fill="#08009A"/><circle cx="449.2" cy="346.1" r="3.5" fill="#08009A"/><circle cx="434.5" cy="341.3" r="3.5" fill="#08009A"/><circle cx="437.5" cy="340.8" r="3.5" fill="#08009A"/><circle cx="441.0" cy="340.8" r="3.5" fill="#08009A"/><circle cx="444.0" cy="340.3" r="3.5" fill="#08009A"/><circle cx="450.5" cy="340.8" r="3.5" fill="#08009A"/><circle cx="454.0" cy="341.8" r="3.5" fill="#08009A"/><circle cx="446.5" cy="319.5" r="3.5" fill="#08009A"/><circle cx="435.3" cy="337.8" r="3.5" fill="#08009A"/><circle cx="439.8" cy="337.8" r="3.5" fill="#08009A"/><circle cx="446.3" cy="336.0" r="3.5" fill="#08009A"/><circle cx="447.6" cy="338.9" r="3.5" fill="#08009A"/><circle cx="453.4" cy="338.3" r="3.5" fill="#08009A"/></g>
<g><circle cx="460.0" cy="348.0" r="3.5" fill="#D38900"/><circle cx="460.8" cy="347.0" r="3.5" fill="#D38900"/><circle cx="461.6" cy="348.0" r="3.5" fill="#D38900"/><circle cx="462.4" cy="346.7" r="3.5" fill="#D38900"/><circle cx="463.2" cy="348.0" r="3.5" fill="#D38900"/><circle cx="464.0" cy="346.4" r="3.5" fill="#D38900"/><circle cx="464.8" cy="348.0" r="3.5" fill="#D38900"/><circle cx="465.6" cy="347.0" r="3.5" fill="#D38900"/><circle cx="466.4" cy="348.0" r="3.5" fill="#D38900"/><circle cx="467.2" cy="346.7" r="3.5" fill="#D38900"/><circle cx="468.0" cy="348.0" r="3.5" fill="#D38900"/><circle cx="468.8" cy="346.4" r="3.5" fill="#D38900"/><circle cx="469.6" cy="348.0" r="3.5" fill="#D38900"/><circle cx="470.4" cy="347.0" r="3.5" fill="#D38900"/><circle cx="471.2" cy="348.0" r="3.5" fill="#D38900"/><circle cx="472.0" cy="346.7" r="3.5" fill="#D38900"/><circle cx="472.8" cy="348.0" r="3.5" fill="#D38900"/><circle cx="473.6" cy="346.4" r="3.5" fill="#D38900"/><circle cx="474.4" cy="348.0" r="3.5" fill="#D38900"/><circle cx="476.0" cy="348.0" r="3.5" fill="#D38900"/><circle cx="477.6" cy="348.0" r="3.5" fill="#D38900"/><circle cx="479.2" cy="348.0" r="3.5" fill="#D38900"/><circle cx="480.8" cy="348.0" r="3.5" fill="#D38900"/><circle cx="470.9" cy="345.5" r="3.5" fill="#D38900"/><circle cx="469.6" cy="346.0" r="3.5" fill="#D38900"/><circle cx="470.1" cy="343.3" r="3.5" fill="#D38900"/><circle cx="465.5" cy="345.9" r="3.5" fill="#D38900"/><circle cx="469.2" cy="330.9" r="3.5" fill="#D38900"/><circle cx="469.5" cy="334.0" r="3.5" fill="#D38900"/><circle cx="469.5" cy="337.5" r="3.5" fill="#D38900"/><circle cx="460.5" cy="334.3" r="3.5" fill="#D38900"/><circle cx="458.5" cy="336.3" r="3.5" fill="#D38900"/><circle cx="461.8" cy="337.6" r="3.5" fill="#D38900"/></g>
<g><circle cx="483.2" cy="348.0" r="3.5" fill="#08009A"/><circle cx="484.8" cy="348.0" r="3.5" fill="#08009A"/><circle cx="486.4" cy="348.0" r="3.5" fill="#08009A"/><circle cx="488.0" cy="348.0" r="3.5" fill="#08009A"/><circle cx="489.6" cy="348.0" r="3.5" fill="#08009A"/><circle cx="491.2" cy="348.0" r="3.5" fill="#08009A"/><circle cx="492.8" cy="348.0" r="3.5" fill="#08009A"/><circle cx="494.4" cy="348.0" r="3.5" fill="#08009A"/><circle cx="496.0" cy="348.0" r="3.5" fill="#08009A"/><circle cx="483.0" cy="344.0" r="3.5" fill="#08009A"/><circle cx="481.0" cy="345.9" r="3.5" fill="#08009A"/><circle cx="485.5" cy="345.6" r="3.5" fill="#08009A"/><circle cx="488.0" cy="346.6" r="3.5" fill="#08009A"/></g>
<g><circle cx="499.6" cy="348.0" r="3.5" fill="#D38900"/><circle cx="500.4" cy="346.9" r="3.5" fill="#D38900"/><circle cx="501.2" cy="348.0" r="3.5" fill="#D38900"/><circle cx="502.0" cy="346.4" r="3.5" fill="#D38900"/><circle cx="502.8" cy="348.0" r="3.5" fill="#D38900"/><circle cx="503.6" cy="346.8" r="3.5" fill="#D38900"/><circle cx="504.4" cy="348.0" r="3.5" fill="#D38900"/><circle cx="505.2" cy="346.9" r="3.5" fill="#D38900"/><circle cx="506.0" cy="348.0" r="3.5" fill="#D38900"/><circle cx="506.8" cy="346.4" r="3.5" fill="#D38900"/><circle cx="507.6" cy="348.0" r="3.5" fill="#D38900"/><circle cx="508.4" cy="346.7" r="3.5" fill="#D38900"/><circle cx="509.2" cy="348.0" r="3.5" fill="#D38900"/><circle cx="510.0" cy="346.9" r="3.5" fill="#D38900"/><circle cx="510.8" cy="348.0" r="3.5" fill="#D38900"/><circle cx="511.6" cy="346.4" r="3.5" fill="#D38900"/><circle cx="512.4" cy="348.0" r="3.5" fill="#D38900"/><circle cx="513.2" cy="346.7" r="3.5" fill="#D38900"/><circle cx="514.0" cy="348.0" r="3.5" fill="#D38900"/><circle cx="514.8" cy="346.9" r="3.5" fill="#D38900"/><circle cx="509.6" cy="345.0" r="3.5" fill="#D38900"/><circle cx="513.0" cy="346.8" r="3.5" fill="#D38900"/><circle cx="510.3" cy="345.6" r="3.5" fill="#D38900"/><circle cx="501.7" cy="344.2" r="3.5" fill="#D38900"/><circle cx="514.0" cy="346.7" r="3.5" fill="#D38900"/><circle cx="513.8" cy="346.3" r="3.5" fill="#D38900"/><circle cx="508.2" cy="338.6" r="3.5" fill="#D38900"/></g>
<g><circle cx="516.5" cy="348.0" r="3.5" fill="#08009A"/><circle cx="517.3" cy="346.5" r="3.5" fill="#08009A"/><circle cx="518.1" cy="348.0" r="3.5" fill="#08009A"/><circle cx="518.9" cy="347.0" r="3.5" fill="#08009A"/><circle cx="519.7" cy="348.0" r="3.5" fill="#08009A"/><circle cx="520.5" cy="346.6" r="3.5" fill="#08009A"/><circle cx="521.3" cy="348.0" r="3.5" fill="#08009A"/><circle cx="522.1" cy="346.5" r="3.5" fill="#08009A"/><circle cx="522.9" cy="348.0" r="3.5" fill="#08009A"/><circle cx="523.7" cy="347.0" r="3.5" fill="#08009A"/><circle cx="524.5" cy="348.0" r="3.5" fill="#08009A"/><circle cx="525.3" cy="346.7" r="3.5" fill="#08009A"/><circle cx="521.0" cy="343.0" r="3.5" fill="#08009A"/><circle cx="524.2" cy="346.8" r="3.5" fill="#08009A"/><circle cx="520.5" cy="346.1" r="3.5" fill="#08009A"/><circle cx="519.7" cy="346.7" r="3.5" fill="#08009A"/><circle cx="516.7" cy="282.4" r="3.5" fill="#08009A"/><circle cx="520.3" cy="333.1" r="3.5" fill="#08009A"/><circle cx="524.8" cy="333.4" r="3.5" fill="#08009A"/><circle cx="524.3" cy="336.8" r="3.5" fill="#08009A"/><circle cx="517.8" cy="340.4" r="3.5" fill="#08009A"/><circle cx="521.0" cy="339.3" r="3.5" fill="#08009A"/><circle cx="523.2" cy="66.1" r="3.5" fill="#00D200"/></g>
<g><circle cx="527.8" cy="348.0" r="3.5" fill="#D38900"/><circle cx="528.6" cy="347.0" r="3.5" fill="#D38900"/><circle cx="529.4" cy="348.0" r="3.5" fill="#D38900"/><circle cx="530.2" cy="346.6" r="3.5" fill="#D38900"/><circle cx="531.0" cy="348.0" r="3.5" fill="#D38900"/><circle cx="531.8" cy="346.5" r="3.5" fill="#D38900"/><circle cx="532.6" cy="348.0" r="3.5" fill="#D38900"/><circle cx="533.4" cy="347.0" r="3.5" fill="#D38900"/><circle cx="534.2" cy="348.0" r="3.5" fill="#D38900"/><circle cx="535.0" cy="346.6" r="3.5" fill="#D38900"/><circle cx="535.8" cy="348.0" r="3.5" fill="#D38900"/><circle cx="536.6" cy="346.5" r="3.5" fill="#D38900"/><circle cx="537.4" cy="348.0" r="3.5" fill="#D38900"/><circle cx="538.2" cy="347.0" r="3.5" fill="#D38900"/><circle cx="539.0" cy="348.0" r="3.5" fill="#D38900"/><circle cx="539.8" cy="346.7" r="3.5" fill="#D38900"/><circle cx="540.6" cy="348.0" r="3.5" fill="#D38900"/><circle cx="541.4" cy="346.5" r="3.5" fill="#D38900"/><circle cx="542.2" cy="348.0" r="3.5" fill="#D38900"/><circle cx="543.0" cy="347.0" r="3.5" fill="#D38900"/><circle cx="532.5" cy="345.3" r="3.5" fill="#D38900"/><circle cx="528.1" cy="346.0" r="3.5" fill="#D38900"/><circle cx="534.3" cy="347.0" r="3.5" fill="#D38900"/><circle cx="532.7" cy="345.7" r="3.5" fill="#D38900"/><circle cx="535.3" cy="346.9" r="3.5" fill="#D38900"/><circle cx="542.3" cy="345.0" r="3.5" fill="#D38900"/><circle cx="543.3" cy="326.0" r="3.5" fill="#D38900"/><circle cx="531.5" cy="341.5" r="3.5" fill="#D38900"/></g>
<g><circle cx="544.5" cy="348.0" r="3.5" fill="#08009A"/><circle cx="545.3" cy="346.4" r="3.5" fill="#08009A"/><circle cx="546.1" cy="348.0" r="3.5" fill="#08009A"/><circle cx="546.9" cy="346.7" r="3.5" fill="#08009A"/><circle cx="547.7" cy="348.0" r="3.5" fill="#08009A"/><circle cx="548.5" cy="347.0" r="3.5" fill="#08009A"/><circle cx="549.3" cy="348.0" r="3.5" fill="#08009A"/><circle cx="550.1" cy="346.5" r="3.5" fill="#08009A"/><circle cx="550.9" cy="348.0" r="3.5" fill="#08009A"/><circle cx="551.7" cy="346.7" r="3.5" fill="#08009A"/><circle cx="552.5" cy="348.0" r="3.5" fill="#08009A"/><circle cx="553.3" cy="347.0" r="3.5" fill="#08009A"/><circle cx="554.1" cy="348.0" r="3.5" fill="#08009A"/><circle cx="554.9" cy="346.5" r="3.5" fill="#08009A"/><circle cx="555.7" cy="348.0" r="3.5" fill="#08009A"/><circle cx="556.5" cy="346.7" r="3.5" fill="#08009A"/><circle cx="557.3" cy="348.0" r="3.5" fill="#08009A"/><circle cx="558.1" cy="347.0" r="3.5" fill="#08009A"/><circle cx="558.5" cy="346.9" r="3.5" fill="#08009A"/><circle cx="548.3" cy="346.9" r="3.5" fill="#08009A"/><circle cx="555.7" cy="346.6" r="3.5" fill="#08009A"/><circle cx="546.4" cy="346.3" r="3.5" fill="#08009A"/><circle cx="557.6" cy="344.8" r="3.5" fill="#08009A"/><circle cx="548.2" cy="346.8" r="3.5" fill="#08009A"/><circle cx="549.0" cy="340.3" r="3.5" fill="#08009A"/><circle cx="553.0" cy="339.8" r="3.5" fill="#08009A"/><circle cx="546.0" cy="341.3" r="3.5" fill="#08009A"/><circle cx="551.0" cy="337.3" r="3.5" fill="#08009A"/><circle cx="547.0" cy="323.9" r="3.5" fill="#08009A"/><circle cx="551.3" cy="321.3" r="3.5" fill="#08009A"/><circle cx="551.5" cy="333.1" r="3.5" fill="#08009A"/><circle cx="544.2" cy="338.1" r="3.5" fill="#08009A"/><circle cx="548.9" cy="336.3" r="3.5" fill="#08009A"/><circle cx="554.0" cy="335.7" r="3.5" fill="#08009A"/><circle cx="557.0" cy="337.1" r="3.5" fill="#08009A"/></g>
<g><circle cx="560.9" cy="348.0" r="3.5" fill="#D38900"/><circle cx="561.7" cy="346.8" r="3.5" fill="#D38900"/><circle cx="562.5" cy="348.0" r="3.5" fill="#D38900"/><circle cx="563.3" cy="346.9" r="3.5" fill="#D38900"/><circle cx="564.1" cy="348.0" r="3.5" fill="#D38900"/><circle cx="564.9" cy="346.4" r="3.5" fill="#D38900"/><circle cx="565.7" cy="348.0" r="3.5" fill="#D38900"/><circle cx="566.5" cy="346.8" r="3.5" fill="#D38900"/><circle cx="567.3" cy="348.0" r="3.5" fill="#D38900"/><circle cx="568.9" cy="348.0" r="3.5" fill="#D38900"/><circle cx="570.5" cy="348.0" r="3.5" fill="#D38900"/><circle cx="571.3" cy="346.8" r="3.5" fill="#D38900"/><circle cx="570.6" cy="345.9" r="3.5" fill="#D38900"/><circle cx="561.8" cy="346.9" r="3.5" fill="#D38900"/><circle cx="572.0" cy="325.8" r="3.5" fill="#D38900"/><circle cx="564.8" cy="338.7" r="3.5" fill="#D38900"/><circle cx="561.8" cy="340.8" r="3.5" fill="#D38900"/></g>
<g><circle cx="573.5" cy="348.0" r="3.5" fill="#08009A"/><circle cx="574.3" cy="346.4" r="3.5" fill="#08009A"/><circle cx="575.1" cy="348.0" r="3.5" fill="#08009A"/><circle cx="575.9" cy="346.7" r="3.5" fill="#08009A"/><circle cx="576.7" cy="348.0" r="3.5" fill="#08009A"/><circle cx="577.5" cy="347.0" r="3.5" fill="#08009A"/><circle cx="578.3" cy="348.0" r="3.5" fill="#08009A"/><circle cx="579.1" cy="346.5" r="3.5" fill="#08009A"/><circle cx="579.9" cy="348.0" r="3.5" fill="#08009A"/><circle cx="580.7" cy="346.7" r="3.5" fill="#08009A"/><circle cx="581.5" cy="348.0" r="3.5" fill="#08009A"/><circle cx="582.3" cy="347.0" r="3.5" fill="#08009A"/><circle cx="577.0" cy="346.9" r="3.5" fill="#08009A"/><circle cx="581.2" cy="345.7" r="3.5" fill="#08009A"/><circle cx="580.1" cy="346.9" r="3.5" fill="#08009A"/><circle cx="577.5" cy="341.3" r="3.5" fill="#08009A"/><circle cx="579.5" cy="340.3" r="3.5" fill="#08009A"/><circle cx="575.6" cy="317.8" r="3.5" fill="#08009A"/><circle cx="578.2" cy="320.0" r="3.5" fill="#08009A"/><circle cx="580.0" cy="321.8" r="3.5" fill="#08009A"/><circle cx="579.8" cy="334.4" r="3.5" fill="#08009A"/><circle cx="576.0" cy="340.2" r="3.5" fill="#08009A"/><circle cx="578.5" cy="337.6" r="3.5" fill="#08009A"/></g>
<g><circle cx="583.7" cy="348.0" r="3.5" fill="#D38900"/><circle cx="584.5" cy="346.4" r="3.5" fill="#D38900"/><circle cx="585.3" cy="348.0" r="3.5" fill="#D38900"/><circle cx="586.1" cy="346.9" r="3.5" fill="#D38900"/><circle cx="586.9" cy="348.0" r="3.5" fill="#D38900"/><circle cx="587.7" cy="346.8" r="3.5" fill="#D38900"/><circle cx="588.5" cy="348.0" r="3.5" fill="#D38900"/><circle cx="589.3" cy="346.4" r="3.5" fill="#D38900"/><circle cx="590.1" cy="348.0" r="3.5" fill="#D38900"/><circle cx="590.9" cy="346.9" r="3.5" fill="#D38900"/><circle cx="591.7" cy="348.0" r="3.5" fill="#D38900"/><circle cx="592.5" cy="346.8" r="3.5" fill="#D38900"/><circle cx="593.3" cy="348.0" r="3.5" fill="#D38900"/><circle cx="594.1" cy="346.4" r="3.5" fill="#D38900"/><circle cx="592.6" cy="346.9" r="3.5" fill="#D38900"/><circle cx="592.7" cy="346.2" r="3.5" fill="#D38900"/><circle cx="587.2" cy="346.0" r="3.5" fill="#D38900"/><circle cx="593.3" cy="346.6" r="3.5" fill="#D38900"/><circle cx="583.7" cy="340.3" r="3.5" fill="#D38900"/><circle cx="589.0" cy="343.3" r="3.5" fill="#D38900"/><circle cx="583.2" cy="326.0" r="3.5" fill="#D38900"/><circle cx="590.3" cy="319.4" r="3.5" fill="#D38900"/><circle cx="593.5" cy="328.8" r="3.5" fill="#D38900"/><circle cx="593.9" cy="332.5" r="3.5" fill="#D38900"/><circle cx="584.4" cy="337.1" r="3.5" fill="#D38900"/><circle cx="581.8" cy="338.9" r="3.5" fill="#D38900"/><circle cx="593.4" cy="339.6" r="3.5" fill="#D38900"/><circle cx="589.5" cy="243.7" r="3.5" fill="#D38900"/></g>
<g><circle cx="596.1" cy="348.0" r="3.5" fill="#08009A"/><circle cx="596.9" cy="347.0" r="3.5" fill="#08009A"/><circle cx="597.7" cy="348.0" r="3.5" fill="#08009A"/><circle cx="598.5" cy="346.4" r="3.5" fill="#08009A"/><circle cx="599.3" cy="348.0" r="3.5" fill="#08009A"/><circle cx="600.1" cy="346.7" r="3.5" fill="#08009A"/><circle cx="596.5" cy="346.0" r="3.5" fill="#08009A"/><circle cx="596.6" cy="344.7" r="3.5" fill="#08009A"/><circle cx="599.9" cy="341.5" r="3.5" fill="#08009A"/><circle cx="595.2" cy="322.5" r="3.5" fill="#00D200"/></g>
<g><circle cx="601.5" cy="348.0" r="3.5" fill="#D38900"/><circle cx="602.3" cy="346.8" r="3.5" fill="#D38900"/><circle cx="603.1" cy="348.0" r="3.5" fill="#D38900"/><circle cx="603.9" cy="346.4" r="3.5" fill="#D38900"/><circle cx="604.7" cy="348.0" r="3.5" fill="#D38900"/><circle cx="605.5" cy="346.9" r="3.5" fill="#D38900"/><circle cx="606.3" cy="348.0" r="3.5" fill="#D38900"/><circle cx="607.1" cy="346.8" r="3.5" fill="#D38900"/><circle cx="603.0" cy="346.8" r="3.5" fill="#D38900"/><circle cx="602.5" cy="346.9" r="3.5" fill="#D38900"/><circle cx="605.8" cy="328.4" r="3.5" fill="#D38900"/><circle cx="604.5" cy="341.2" r="3.5" fill="#D38900"/><circle cx="608.3" cy="344.8" r="3.5" fill="#D38900"/></g>
<line x1="91.5" x2="622" y1="342.0" y2="342.0" stroke="#1414F5" stroke-width="1.25"/>
<line x1="91.5" x2="622" y1="324.05" y2="324.05" stroke="#FA1010" stroke-width="1.25"/>
<text class="g" x="139.3" y="317.9">EFNA3</text>
<text class="g" x="159.8" y="112.75">GCKR</text>
<text class="g" x="208.3" y="299.5">GPX1</text>
<text class="g" x="236.6" y="335.1">HGFAC</text>
<text class="g" x="294.5" y="313.0">LEAP2</text>
<text class="g" x="308.7" y="288.9">AGER</text>
<text class="g" x="346.6" y="314.4">GUSB</text>
<text class="g" x="377.7" y="323.9">CA3</text>
<text class="g" x="395.3" y="326.3">PRSS3</text>
<text class="g" x="430.4" y="317.3">FAM213A</text>
<text class="g" x="452.4" y="317.7">C11orf68</text>
<text class="g" x="473.4" y="329.8">SHMT2</text>
<text class="g" x="511.5" y="338.3">VTI1B</text>
<text class="g" x="526.8" y="64.7">NRG4</text>
<text class="g" x="548" y="323.5">DPEP1</text>
<text class="g" x="555.2" y="320.2">CSF3</text>
<text class="g" x="577.4" y="323.5">CYB5A</text>
<text class="g" x="580.8" y="316.7">JUND</text>
<text class="g" x="595.9" y="242.5">MAP1LC3A</text>
<text class="s" x="586.4" y="333.0">TCEA2</text>
<text class="g" x="610.7" y="327.3">A4GALT</text>
<g stroke="#000" stroke-width="1.4" fill="none" stroke-linecap="butt">
<path d="M91.55 54.03V351.78"/>
<path d="M79.9 351.08H91.5"/>
<path d="M79.9 276.99H91.5"/>
<path d="M79.9 202.90H91.5"/>
<path d="M79.9 128.82H91.5"/>
<path d="M79.9 54.73H91.5"/>
<path d="M134.8 351.2V362.5"/>
<path d="M169.8 351.2V362.5"/>
<path d="M216.7 351.2V362.5"/>
<path d="M246.3 351.2V362.5"/>
<path d="M290.6 351.2V362.5"/>
<path d="M307.2 351.2V362.5"/>
<path d="M344.3 351.2V362.5"/>
<path d="M373.5 351.2V362.5"/>
<path d="M402.8 351.2V362.5"/>
<path d="M423 351.2V362.5"/>
<path d="M446.6 351.2V362.5"/>
<path d="M469 351.2V362.5"/>
<path d="M488.3 351.2V362.5"/>
<path d="M508.1 351.2V362.5"/>
<path d="M522.4 351.2V362.5"/>
<path d="M537.3 351.2V362.5"/>
<path d="M551.1 351.2V362.5"/>
<path d="M565.5 351.2V362.5"/>
<path d="M579.8 351.2V362.5"/>
<path d="M589.1 351.2V362.5"/>
<path d="M600.2 351.2V362.5"/>
<path d="M603.4 351.2V362.5"/>
</g>
<text class="y" text-anchor="end" x="69.4" y="357.18">0</text>
<text class="y" text-anchor="end" x="69.4" y="283.09">20</text>
<text class="y" text-anchor="end" x="69.4" y="209.00">40</text>
<text class="y" text-anchor="end" x="69.4" y="134.92">60</text>
<text class="y" text-anchor="end" x="69.4" y="60.83">80</text>
<text class="a" text-anchor="middle" x="134.8" y="391.4">1</text>
<text class="a" text-anchor="middle" x="169.8" y="391.4">2</text>
<text class="a" text-anchor="middle" x="216.7" y="391.4">3</text>
<text class="a" text-anchor="middle" x="246.3" y="391.4">4</text>
<text class="a" text-anchor="middle" x="290.6" y="391.4">5</text>
<text class="a" text-anchor="middle" x="344.3" y="391.4">7</text>
<text class="a" text-anchor="middle" x="373.5" y="391.4">8</text>
<text class="a" text-anchor="middle" x="402.8" y="391.4">9</text>
<text class="a" text-anchor="middle" x="446.6" y="391.4">11</text>
<text class="a" text-anchor="middle" x="488.3" y="391.4">13</text>
<text class="a" text-anchor="middle" x="522.4" y="391.4">15</text>
<text class="a" text-anchor="middle" x="565.5" y="391.4">18</text>
<text class="a" text-anchor="middle" x="600.2" y="391.4">21</text>
<text class="t" style="font-size:18.65px" text-anchor="middle" x="356.7" y="436.3">Chromosome</text>
<g transform="rotate(-90)" class="t"><text x="-243.0" y="17.0">−</text><text x="-229.2" y="16.3">log</text><text x="-204.6" y="18.9" font-size="11.5px">10</text><text x="-191.4" y="15.7" font-size="21.6px">(</text><text x="-183.2" y="16.3" font-style="italic">p</text><text x="-170.2" y="15.7" font-size="21.6px">)</text></g>
</svg></body></html>
